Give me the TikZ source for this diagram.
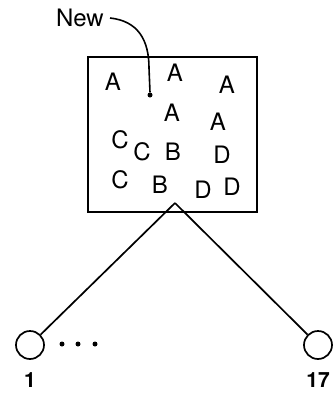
\documentclass[tikz,border=0pt]{standalone}
\usepackage{fontspec}
\setmainfont{TeX Gyre Heros}
\usepackage{tikz}
\usetikzlibrary{positioning}

\begin{document}
\begin{tikzpicture}[
		x=1pt, y=-1pt,
		poolbox/.style={
			rectangle,
			draw=black,
			line width=1.8pt,
			minimum width=169pt,
			minimum height=155pt,
			inner sep=0pt
		},
		item/.style={
			inner sep=0pt,
			font=\fontsize{24}{28}\selectfont
		},
		leaf/.style={
			circle,
			draw=black,
			line width=1.7pt,
			minimum size=28pt,
			inner sep=0pt
		},
		leaflabel/.style={
			inner sep=0pt,
			font=\fontsize{21}{25}\selectfont\bfseries
		},
		edge/.style={
			draw=black,
			line width=1.7pt
		}
		]
		
		\useasboundingbox (0,0) rectangle (335,402);
		
		% the pool of members
		\node[poolbox] (pool) at (172.5,134.5) {};
		
		\node[item] (a1) at (113,82) {A};
		\node[item] (a2) at (175,73) {A};
		\node[item] (a3) at (227,85) {A};
		\node[item] (a4) at (172,113) {A};
		\node[item] (a5) at (218,122) {A};
		
		\node[item] (c1) at (120,140) {C};
		\node[item] (c2) at (142,152) {C};
		\node[item] (b1) at (173,152) {B};
		\node[item] (d1) at (222,155) {D};
		
		\node[item] (c3) at (120,180) {C};
		\node[item] (b2) at (160,185) {B};
		\node[item] (d2) at (203,190) {D};
		\node[item] (d3) at (232,187) {D};
		
		% the new member
		\node[circle, fill=black, inner sep=0pt, minimum size=5pt] (newdot) at (150,95) {};
		\node[item, anchor=east] (newlabel) at (104,18) {New};
		\draw[line width=1.6pt] (newlabel.east) ++(6pt,0pt) coordinate (leadstart)
			.. controls (138,21) and (149,40) .. (149,68) -- (newdot.north) ++(0pt,5pt);
		
		% leaves
		\coordinate (apex) at (175,203);
		\node[leaf] (leaf1) at (30,345) {};
		\node[leaf] (leaf17) at (318,345) {};
		\node[leaflabel, below=13pt of leaf1] (lab1) {1};
		\node[leaflabel, below=13pt of leaf17] (lab17) {17};
		
		\draw[edge] (apex) -- (leaf1);
		\draw[edge] (apex) -- (leaf17);
		
		\fill (62,344) circle (2.5pt) (78,344) circle (2.5pt) (95,344) circle (2.5pt);
		
	\end{tikzpicture}
\end{document}
